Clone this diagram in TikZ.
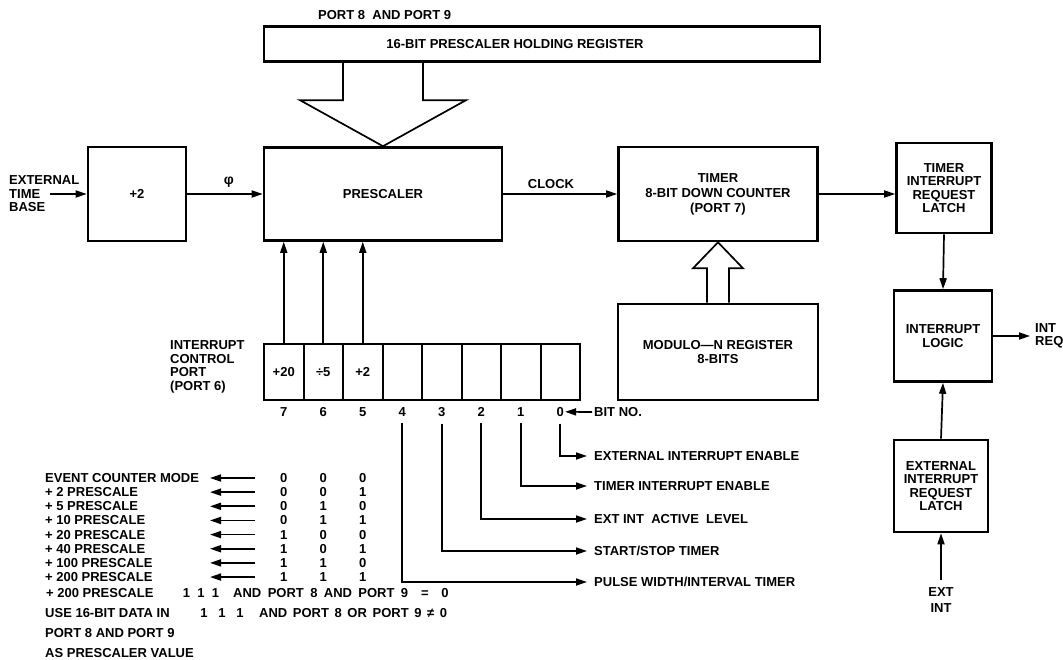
\documentclass[tikz,border=0pt]{standalone}
\usepackage{fontspec}
\setmainfont{Liberation Sans}
\usetikzlibrary{positioning,arrows.meta,calc}

\begin{document}
\begin{tikzpicture}[x=1pt, y=-1pt,
  font=\fontsize{13}{13.5}\selectfont\bfseries,
  blk/.style={draw, line width=2.6pt, inner sep=0pt, align=center},
  cell/.style={draw, line width=2pt, minimum width=39.5pt, minimum height=56pt, inner sep=0pt},
  arr/.style={line width=1.7pt, -{Triangle[length=11pt,width=7pt]}},
  hollow/.style={line width=1.7pt, line join=miter},
  lbl/.style={inner sep=0pt, align=left}]
  \useasboundingbox (0,0) rectangle (1063,660);

  % top row
  \node[blk, minimum width=98pt, minimum height=94pt] (div) at (137,194) {+2};
  \node[blk, minimum width=238pt, minimum height=93pt] (presc) at (383,194) {PRESCALER};
  \node[blk, minimum width=199pt, minimum height=94pt] (timer) at (718,194)
       {TIMER\\[1.5pt]8-BIT DOWN COUNTER\\[1.5pt](PORT 7)};
  \node[blk, minimum width=95pt, minimum height=90pt] (tirl) at (944,188)
       {TIMER\\INTERRUPT\\REQUEST\\LATCH};
  \node[blk, minimum width=98pt, minimum height=91pt] (intlog) at (943,336)
       {INTERRUPT\\LOGIC};
  \node[blk, minimum width=94pt, minimum height=92pt] (eirl) at (941,486)
       {EXTERNAL\\INTERRUPT\\REQUEST\\LATCH};
  \node[blk, minimum width=200pt, minimum height=96pt] (modn) at (718,352)
       {MODULO---N REGISTER\\8-BITS};

  % holding register
  \node[blk, line width=2.2pt, minimum width=556pt, minimum height=35pt] (hold) at (542,44) {};
  \node (holdtxt) at (515,44) {16-BIT PRESCALER HOLDING REGISTER};
  \node[lbl, anchor=west] (p89) at (318,15) {PORT 8 \ AND PORT 9};
  \draw[hollow] (presc.north) -- ++(-83,-46) -- ++(43,0) -- (hold.south -| 343,0);
  \draw[hollow] (presc.north) -- ++(83,-46) -- ++(-43,0) -- (hold.south -| 423,0);
  \foreach \s in {-1,1}
    \draw[hollow] (timer.south) -- ++(25*\s,26) -- ++(-14*\s,0) -- (modn.north -| {718+11*\s},0);

  % inputs and links
  \node[lbl] (ext) at (9,194) [anchor=west] {EXTERNAL\\TIME\\BASE};
  \coordinate (extend) at (50,194);
  \draw[arr] (extend) -- (div.west);
  \draw[arr] (div.east) -- (presc.west |- div.east);
  \node (phi) at (229,182) {\fontsize{14}{14}\selectfont φ};
  \draw[arr] (presc.east) -- (timer.west);
  \node (clk) at (551,184) {CLOCK};
  \draw[arr] (timer.east) -- (tirl.west |- timer.east);
  \draw[arr] (tirl.south) -- (intlog.north);
  \draw[arr] (eirl.north) -- (intlog.south);
  \node[lbl, align=center] (extint) at (941,600) {EXT\\[2pt]INT};
  \draw[arr] ([yshift=8pt]extint.north) -- (eirl.south);
  \node[lbl, anchor=west] (intreq) at (1035,336) {INT\\REQ};
  \draw[arr] (intlog.east) -- ([xshift=-5pt]intreq.west);

  % interrupt control port (port 6)
  \node[lbl, anchor=west] (icp) at (170,367) {INTERRUPT\\CONTROL\\PORT\\(PORT 6)};
  \foreach \b/\t in {7/+20, 6/÷5, 5/+2, 4/, 3/, 2/, 1/, 0/} {
    \node[cell] (c\b) at ({283.75+(7-\b)*39.5},372) {\t};
    \node[below=5pt of c\b, inner sep=1pt] (n\b) {\b};
  }
  \foreach \b in {5,6,7}
    \draw[arr] (c\b.north) -- (c\b.north |- presc.south);
  \node[lbl, anchor=west] (bitno) at (594,412) {BIT NO.};
  \draw[arr] ([xshift=-2pt]bitno.west) -- (n0.east);

  % bit functions
  \foreach \b/\yy/\t in {0/456/EXTERNAL INTERRUPT ENABLE, 1/486/TIMER INTERRUPT ENABLE,
      2/519/{EXT INT \ ACTIVE \ LEVEL}, 3/551/{START/STOP TIMER}, 4/582/{PULSE WIDTH/INTERVAL TIMER}} {
    \node[lbl, anchor=west] (f\b) at (594,\yy) {\t};
    \draw[arr] ([yshift=-6pt]n\b.south) |- ([xshift=-7pt]f\b.west);
  }

  % prescale table
  \foreach \t/\a/\bb/\c [count=\i from 0] in {EVENT COUNTER MODE/0/0/0, {+ 2 PRESCALE}/0/0/1,
      {+ 5 PRESCALE}/0/1/0, {+ 10 PRESCALE}/0/1/1, {+ 20 PRESCALE}/1/0/0,
      {+ 40 PRESCALE}/1/0/1, {+ 100 PRESCALE}/1/1/0, {+ 200 PRESCALE}/1/1/1} {
    \node[lbl, anchor=west] (m\i) at (45,{478+\i*14.15}) {\t};
    \node[inner sep=0pt] (va\i) at (c7 |- m\i) {\a};
    \node[inner sep=0pt] (vb\i) at (c6 |- m\i) {\bb};
    \node[inner sep=0pt] (vc\i) at (c5 |- m\i) {\c};
    \coordinate (q\i) at (255,{478+\i*14.15});
    \draw[arr] (q\i) -- ++(-45,0);
  }
  \node[lbl, anchor=west] (r1) at (46,593) {+ 200 PRESCALE};
  \node[lbl] (r1b) at (201,593) {1 \ 1 \ 1};
  \node[lbl, anchor=west] (r1c) at (233,593) {\spaceskip=6.4pt AND PORT 8 AND PORT 9 \ = \ 0};
  \node[lbl, anchor=west] (r2) at (45,613) {USE 16-BIT DATA IN};
  \node[lbl] (r2b) at (222,613) {1 \ \ 1 \ \ 1};
  \node[lbl, anchor=west] (r2c) at (259,613) {\spaceskip=5.6pt AND PORT 8 OR PORT 9 ≠ 0};
  \node[lbl, anchor=west] (r3) at (45,633) {PORT 8 AND PORT 9};
  \node[lbl, anchor=west] (r4) at (45,653) {AS PRESCALER VALUE};
\end{tikzpicture}
\end{document}
